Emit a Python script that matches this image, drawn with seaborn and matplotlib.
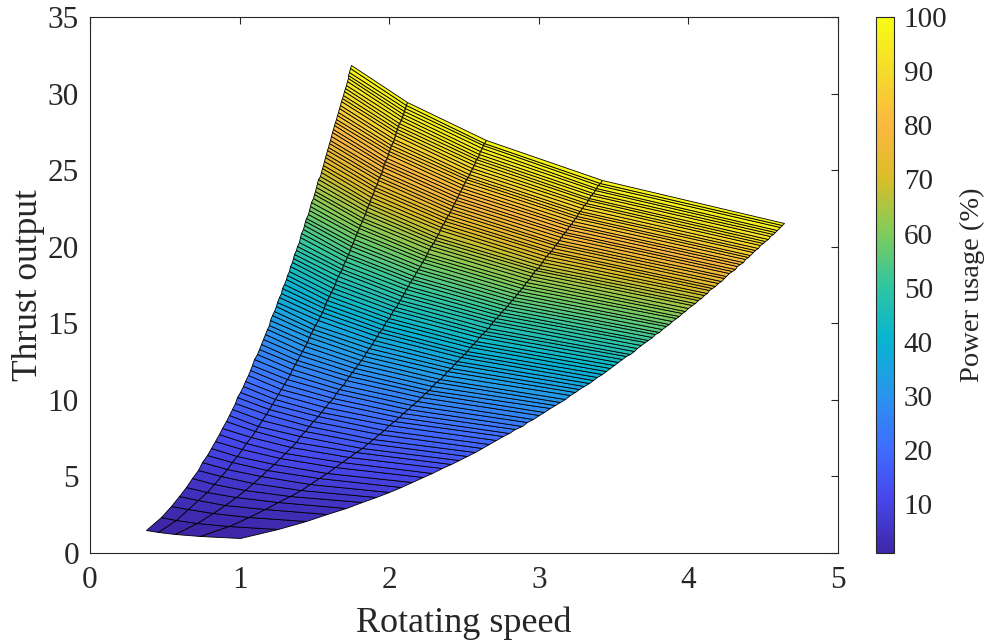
import numpy as np
import matplotlib
matplotlib.use("Agg")
import matplotlib.pyplot as plt
from matplotlib.colors import LinearSegmentedColormap
import seaborn as sns

# Power usage levels (%) along each operating curve
power_levels = np.arange(1, 101)
# Per-curve speed coefficient (rotating speed at 1 % power)
speed_coef = [0.376, 0.4565, 0.570, 0.7368, 1.0]
# Per-curve thrust coefficient (thrust output at 1 % power)
thrust_coef = [1.479, 1.368, 1.252, 1.130, 1.0]

x_ticks = [0, 1, 2, 3, 4, 5]
y_ticks = [0, 5, 10, 15, 20, 25, 30, 35]
cbar_ticks = [10, 20, 30, 40, 50, 60, 70, 80, 90, 100]

# Parula-like colour map
parula_pts = [
    (0.2422, 0.1504, 0.6603),
    (0.2803, 0.2782, 0.9221),
    (0.2440, 0.4358, 0.9988),
    (0.1540, 0.5902, 0.9218),
    (0.0297, 0.7082, 0.8163),
    (0.1938, 0.7758, 0.6251),
    (0.5044, 0.7993, 0.3480),
    (0.8634, 0.7406, 0.1596),
    (0.9892, 0.7200, 0.2500),
    (0.9610, 0.8600, 0.1665),
    (0.9769, 0.9839, 0.0805),
]
parula = LinearSegmentedColormap.from_list("parula", parula_pts, N=256)

sns.set_theme(style="white")
plt.rcParams["font.family"] = ["Liberation Serif", "DejaVu Serif"]
plt.rcParams["mathtext.fontset"] = "stix"

fig = plt.figure(figsize=(9.89, 6.44), dpi=100)
ax = fig.add_axes([90 / 989, 91 / 644, 748 / 989, 536 / 644])
cax = fig.add_axes([876 / 989, 91 / 644, 18 / 989, 536 / 644])

P = power_levels.astype(float)[:, None]
X = np.array(speed_coef)[None, :] * P ** (1.0 / 3.0)
Y = np.array(thrust_coef)[None, :] * P ** (2.0 / 3.0)
C = np.repeat(P[:-1], len(speed_coef) - 1, axis=1)

mesh = ax.pcolormesh(X, Y, C, cmap=parula, vmin=1, vmax=100,
                     shading="flat", edgecolors="black", linewidth=0.6,
                     antialiased=True)

ax.set_xlim(0, 5)
ax.set_ylim(0, 35)
ax.set_xticks(x_ticks)
ax.set_yticks(y_ticks)
ax.tick_params(direction="in", length=5, width=0.8, color="#262626",
               labelsize=22.5, top=True, right=True,
               labelcolor="#262626")
ax.tick_params(axis="x", pad=9)
ax.tick_params(axis="y", pad=8)
for s in ax.spines.values():
    s.set_visible(True)
    s.set_color("#262626")
    s.set_linewidth(0.8)

ax.set_xlabel("Rotating speed", fontsize=26, color="#262626", labelpad=9)
ax.set_ylabel("Thrust output", fontsize=25.5, color="#262626", labelpad=2)

cb = fig.colorbar(mesh, cax=cax)
cb.set_ticks(cbar_ticks)
cb.ax.tick_params(direction="in", length=4, width=0.8, color="#262626",
                  labelsize=21, labelcolor="#262626", pad=7)
cb.outline.set_edgecolor("#262626")
cb.outline.set_linewidth(0.8)
cb.set_label("Power usage (%)", fontsize=20.5, color="#262626", labelpad=9)

fig.savefig("out.png", dpi=100)
